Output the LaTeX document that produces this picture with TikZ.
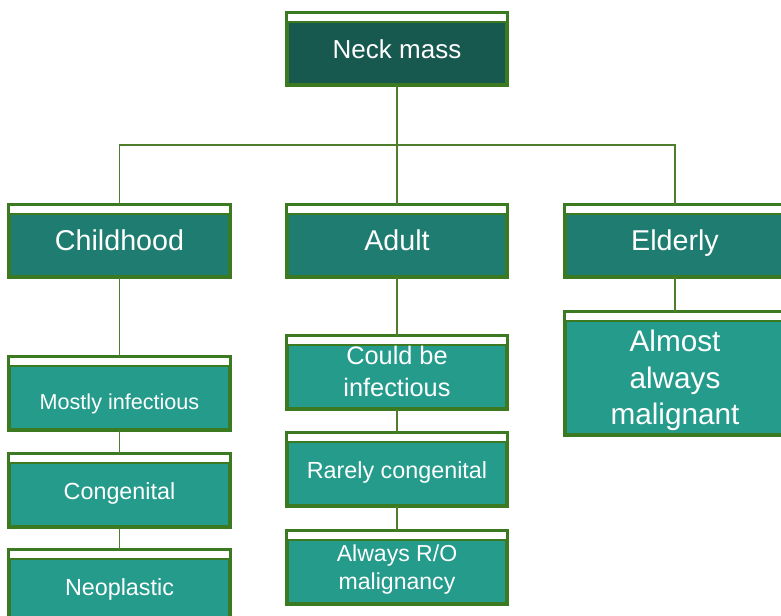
\documentclass[tikz,border=0pt]{standalone}
\usepackage{fontspec}
\setmainfont{Liberation Sans}
\usetikzlibrary{calc}
\definecolor{bord}{HTML}{3B7A21}
\definecolor{conn}{HTML}{4E7D2E}
\definecolor{darkt}{HTML}{17594F}
\definecolor{midt}{HTML}{1E7D70}
\definecolor{lightt}{HTML}{259B8C}
\tikzset{
  bx/.style 2 args={draw=bord, line width=2.6pt, inner sep=0pt, outer sep=0pt,
    minimum width=#1*0.75pt, minimum height=#2*0.75pt},
  strip/.style={fill=white, draw=bord, line width=1.7pt},
  lbl/.style={text=white, align=center, inner sep=0pt, anchor=base},
  link/.style={draw=conn, line width=1.4pt}
}
\newcommand\mystrip[1]{\path[strip] (#1.north west) rectangle ($(#1.north east)+(0,-9)$);}
\begin{document}
\begin{tikzpicture}[x=0.75pt,y=0.75pt]
\clip (0,0) rectangle (781,616);
\useasboundingbox (0,0) rectangle (781,616);
\fill[white] (0,0) rectangle (781,616);
\coordinate (bus) at (397,471);
% boxes
\node[bx={220}{72}, fill=darkt] (neck) at (397,567) {};
\node[bx={221}{72}, fill=midt] (child) at (119.5,375) {};
\node[bx={220}{72}, fill=midt] (adult) at (397,375) {};
\node[bx={220}{72}, fill=midt] (elder) at (675,375) {};
\node[bx={221}{73}, fill=lightt] (mostly) at (119.5,222.5) {};
\node[bx={221}{73}, fill=lightt] (cong) at (119.5,125.5) {};
\node[bx={221}{73}, fill=lightt] (neo) at (119.5,29.5) {};
\node[bx={220}{73}, fill=lightt] (could) at (397,243.5) {};
\node[bx={220}{73}, fill=lightt] (rarely) at (397,146.5) {};
\node[bx={220}{73}, fill=lightt] (always) at (397,48.5) {};
\node[bx={220}{123}, fill=lightt] (almost) at (675,242.5) {};
\foreach \n in {neck,child,adult,elder,mostly,cong,neo,could,rarely,always,almost} {\mystrip{\n}}
% links
\draw[link] (neck.south) -- (bus);
\draw[link] (child.north) |- (bus) -| (elder.north);
\draw[link] (bus) -- (adult.north);
\draw[link] (child.south) -- (mostly.north);
\draw[link] (mostly.south) -- (cong.north);
\draw[link] (cong.south) -- (neo.north);
\draw[link] (adult.south) -- (could.north);
\draw[link] (could.south) -- (rarely.north);
\draw[link] (rarely.south) -- (always.north);
\draw[link] (elder.south) -- (almost.north);
% labels (anchored at last baseline)
\node[lbl, font=\fontsize{19.5}{23}\selectfont] (neckT) at (397,557) {Neck mass};
\node[lbl, font=\fontsize{21.5}{26}\selectfont] (childT) at (119.5,365) {Childhood};
\node[lbl, font=\fontsize{21.5}{26}\selectfont] (adultT) at (397,365) {Adult};
\node[lbl, font=\fontsize{21.5}{26}\selectfont] (elderT) at (675,365) {Elderly};
\node[lbl, font=\fontsize{16.2}{20}\selectfont] (mostlyT) at (119.5,206) {Mostly infectious};
\node[lbl, font=\fontsize{17.5}{21}\selectfont] (congT) at (119.5,116) {Congenital};
\node[lbl, font=\fontsize{17.5}{21}\selectfont] (neoT) at (119.5,20) {Neoplastic};
\node[lbl, font=\fontsize{19}{24}\selectfont] (couldT) at (397,219.3) {Could be\\infectious};
\node[lbl, font=\fontsize{17.5}{21}\selectfont] (rarelyT) at (397,137) {Rarely congenital};
\node[lbl, font=\fontsize{17.3}{21.2}\selectfont] (alwaysT) at (397,26) {Always R/O\\malignancy};
\node[lbl, font=\fontsize{22.3}{27.4}\selectfont] (almostT) at (675,191) {Almost\\always\\malignant};
\end{tikzpicture}
\end{document}
